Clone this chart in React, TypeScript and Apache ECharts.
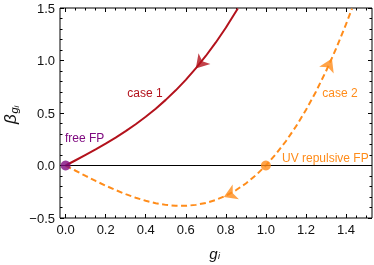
import React, { useEffect, useRef } from "react";
import * as echarts from "echarts";

// ---- data ----
const case1G = [0, 0.05, 0.1, 0.15, 0.2, 0.25, 0.3, 0.35, 0.4, 0.45, 0.5, 0.55, 0.6, 0.65, 0.7, 0.75, 0.8, 0.86];
const case1B = [0, 0.05, 0.101, 0.153, 0.208, 0.266, 0.327, 0.393, 0.464, 0.541, 0.625, 0.716, 0.816, 0.925, 1.043, 1.172, 1.312, 1.496];

const case2G = [0, 0.05, 0.1, 0.15, 0.2, 0.25, 0.3, 0.35, 0.4, 0.45, 0.5, 0.55, 0.6, 0.65, 0.7, 0.75, 0.8, 0.85, 0.9, 0.95, 1.0, 1.05, 1.1, 1.15, 1.2, 1.25, 1.3, 1.35, 1.4, 1.43];
const case2B = [0, -0.05, -0.099, -0.147, -0.192, -0.234, -0.273, -0.307, -0.336, -0.359, -0.375, -0.384, -0.384, -0.375, -0.357, -0.328, -0.288, -0.236, -0.171, -0.093, 0, 0.108, 0.231, 0.371, 0.528, 0.703, 0.897, 1.11, 1.344, 1.494];

const case1Arrows = [[0.65, 0.925]];
const case2Arrows = [[1.33, 1.02], [0.79, -0.3]];

const fixedPointFree = [0, 0];
const fixedPointUV = [1, 0];

const xMajor = [0, 0.2, 0.4, 0.6, 0.8, 1.0, 1.2, 1.4];
const xMinor = [0.05, 0.1, 0.15, 0.25, 0.3, 0.35, 0.45, 0.5, 0.55, 0.65, 0.7, 0.75, 0.85, 0.9, 0.95, 1.05, 1.1, 1.15, 1.25, 1.3, 1.35, 1.45, 1.5];
const yMajor = [-0.5, 0, 0.5, 1.0, 1.5];
const yMinor = [-0.4, -0.3, -0.2, -0.1, 0.1, 0.2, 0.3, 0.4, 0.6, 0.7, 0.8, 0.9, 1.1, 1.2, 1.3, 1.4];
const X_MIN = -0.028;
const X_MAX = 1.53;
const Y_MIN = -0.5;
const Y_MAX = 1.5;

// ---- styles ----
const RED = "#b3121c";
const ORANGE = "#ff8c1a";
const PURPLE = "#7f0a80";
const FONT = "Liberation Sans, Arial, sans-serif";

const fmt = (v: number) => (v < 0 ? "\u2212" + Math.abs(v).toFixed(1) : v.toFixed(1));

const case1Rot = [138];
const case2Rot = [-25, 113];

export default function App() {
  const ref = useRef<HTMLDivElement>(null);
  useEffect(() => {
    if (!ref.current) return;
    const chart = echarts.init(ref.current, null, { renderer: "svg" });
    const tickLS = { color: "#000", width: 1 };
    const labelStyle = { fontSize: 13, fontFamily: FONT, color: "#111", margin: 5, formatter: fmt };
    const mkAxis = (min: number, max: number, position: string, values: number[], len: number, labels: boolean) => ({
      type: "value",
      min,
      max,
      position,
      axisLine: { show: false, onZero: false },
      splitLine: { show: false },
      axisTick: { show: true, inside: true, length: len, customValues: values, lineStyle: tickLS },
      axisLabel: labels ? { ...labelStyle, customValues: values } : { show: false },
    });
    const option: any = {
      animation: false,
      grid: {
        left: 60,
        right: 2,
        top: 8,
        bottom: 47,
        show: true,
        borderColor: "#000",
        borderWidth: 1,
        backgroundColor: "transparent",
      },
      xAxis: [
        mkAxis(X_MIN, X_MAX, "bottom", xMajor, 4, true),
        mkAxis(X_MIN, X_MAX, "bottom", xMinor, 2.5, false),
        mkAxis(X_MIN, X_MAX, "top", xMajor, 4, false),
        mkAxis(X_MIN, X_MAX, "top", xMinor, 2.5, false),
      ],
      yAxis: [
        mkAxis(Y_MIN, Y_MAX, "left", yMajor, 4, true),
        mkAxis(Y_MIN, Y_MAX, "left", yMinor, 2.5, false),
        mkAxis(Y_MIN, Y_MAX, "right", yMajor, 4, false),
        mkAxis(Y_MIN, Y_MAX, "right", yMinor, 2.5, false),
      ],
      series: [
        {
          type: "line",
          data: [],
          markLine: {
            silent: true,
            symbol: "none",
            label: { show: false },
            lineStyle: { color: "#000", width: 1, type: "solid" },
            data: [{ yAxis: 0 }],
          },
          z: 1,
        },
        {
          name: "case 1",
          type: "line",
          data: case1G.map((g, i) => [g, case1B[i]]),
          smooth: false,
          symbol: "none",
          clip: true,
          lineStyle: { color: RED, width: 2, join: "round" },
          z: 3,
        },
        {
          name: "case 2",
          type: "line",
          data: case2G.map((g, i) => [g, case2B[i]]),
          smooth: false,
          symbol: "none",
          clip: true,
          lineStyle: { color: ORANGE, width: 2, type: [6, 3.5] },
          z: 3,
        },
        {
          type: "scatter",
          symbol: "arrow",
          symbolSize: [12, 13],
          itemStyle: { color: RED },
          data: case1Arrows.map((p, i) => ({ value: p, symbolRotate: case1Rot[i] })),
          z: 4,
        },
        {
          type: "scatter",
          symbol: "arrow",
          symbolSize: [12, 13],
          itemStyle: { color: ORANGE },
          data: case2Arrows.map((p, i) => ({ value: p, symbolRotate: case2Rot[i] })),
          z: 4,
        },
        {
          type: "scatter",
          symbol: "circle",
          symbolSize: 10,
          itemStyle: { color: PURPLE },
          data: [fixedPointFree],
          z: 5,
        },
        {
          type: "scatter",
          symbol: "circle",
          symbolSize: 10,
          itemStyle: { color: ORANGE },
          data: [fixedPointUV],
          z: 5,
        },
      ],
      graphic: [
        { type: "text", x: 145, y: 93, style: { text: "case 1", fill: RED, font: `12px ${FONT}`, align: "center", verticalAlign: "middle" } },
        { type: "text", x: 340, y: 93, style: { text: "case 2", fill: ORANGE, font: `12px ${FONT}`, align: "center", verticalAlign: "middle" } },
        { type: "text", x: 65, y: 138, style: { text: "free FP", fill: PURPLE, font: `12px ${FONT}`, align: "left", verticalAlign: "middle" } },
        { type: "text", x: 282, y: 157.5, style: { text: "UV repulsive FP", fill: ORANGE, font: `12px ${FONT}`, align: "left", verticalAlign: "middle" } },
        // x-axis title g_i
        { type: "text", x: 213.5, y: 253, style: { text: "g", fill: "#111", font: `italic 15px ${FONT}`, align: "center", verticalAlign: "middle" } },
        { type: "text", x: 218, y: 256, style: { text: "i", fill: "#111", font: `italic 9px ${FONT}`, align: "left", verticalAlign: "middle" } },
        // y-axis title beta_{g_i}
        {
          type: "group",
          x: 10,
          y: 124,
          rotation: Math.PI / 2,
          children: [
            { type: "text", x: 0, y: 0, style: { text: "\u03b2", fill: "#111", font: `italic 17px ${FONT}`, align: "left", verticalAlign: "middle" } },
            { type: "text", x: 10.5, y: 4, style: { text: "g", fill: "#111", font: `italic 11px ${FONT}`, align: "left", verticalAlign: "middle" } },
            { type: "text", x: 16.5, y: 6, style: { text: "i", fill: "#111", font: `italic 8px ${FONT}`, align: "left", verticalAlign: "middle" } },
          ],
        },
      ],
    };
    chart.setOption(option);
    return () => chart.dispose();
  }, []);
  return <div ref={ref} style={{ position: "fixed", left: 0, top: 0, width: 374, height: 265 }} />;
}
